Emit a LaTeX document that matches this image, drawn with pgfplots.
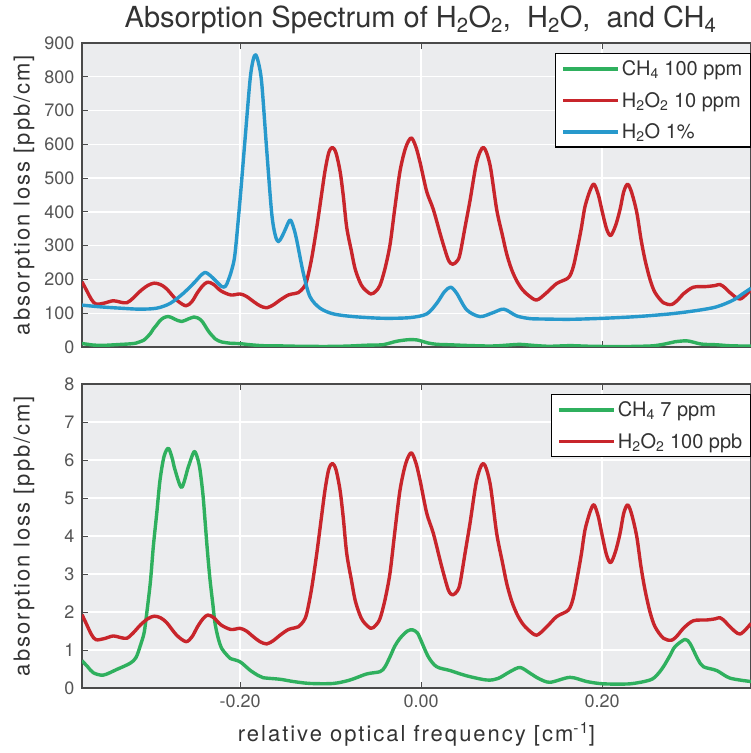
\documentclass[border=0pt]{standalone}
\usepackage{pgfplots}
\pgfplotsset{compat=1.18}
\usepackage{pgfplotstable}
\usepackage{fontspec}
\setmainfont{TeX Gyre Heros}
\newfontfamily\labfont[LetterSpace=9]{TeX Gyre Heros}

\definecolor{bgcol}{HTML}{EBECEE}
\definecolor{framecol}{HTML}{4A4A4A}
\definecolor{tickcol}{HTML}{555555}
\definecolor{labcol}{HTML}{333333}
\definecolor{ch4col}{HTML}{2FB05E}
\definecolor{hhocol}{HTML}{C8252B}
\definecolor{watcol}{HTML}{2799CC}

% H2O2 at 100 ppb, absorption loss in ppb/cm
\pgfplotstableread{
x y
-0.3746 1.93
-0.3700 1.70
-0.3640 1.40
-0.3590 1.27
-0.3500 1.30
-0.3400 1.37
-0.3325 1.33
-0.3250 1.31
-0.3180 1.45
-0.3100 1.66
-0.3020 1.82
-0.2950 1.89
-0.2880 1.85
-0.2810 1.72
-0.2700 1.39
-0.2597 1.22
-0.2530 1.35
-0.2470 1.61
-0.2410 1.82
-0.2357 1.92
-0.2290 1.85
-0.2210 1.66
-0.2100 1.54
-0.2000 1.57
-0.1930 1.50
-0.1853 1.35
-0.1780 1.22
-0.1705 1.16
-0.1630 1.25
-0.1558 1.39
-0.1466 1.54
-0.1400 1.58
-0.1356 1.61
-0.1300 1.75
-0.1263 1.96
-0.1210 2.60
-0.1152 3.54
-0.1100 4.50
-0.1061 5.21
-0.1020 5.75
-0.0980 5.91
-0.0940 5.75
-0.0895 5.21
-0.0860 4.50
-0.0821 3.54
-0.0770 2.85
-0.0729 2.32
-0.0680 1.95
-0.0638 1.75
-0.0556 1.57
-0.0500 1.65
-0.0453 1.83
-0.0400 2.30
-0.0343 3.02
-0.0290 4.10
-0.0232 5.21
-0.0170 5.90
-0.0110 6.19
-0.0060 5.95
-0.0011 5.47
0.0063 4.60
0.0136 4.07
0.0229 3.19
0.0302 2.58
0.0350 2.45
0.0400 2.55
0.0431 2.75
0.0490 3.60
0.0541 4.33
0.0615 5.47
0.0689 5.91
0.0762 5.39
0.0836 4.07
0.0900 3.30
0.0947 2.75
0.1000 2.30
0.1057 1.96
0.1120 1.70
0.1186 1.53
0.1278 1.39
0.1389 1.61
0.1499 1.88
0.1628 2.05
0.1680 2.35
0.1721 2.84
0.1770 3.50
0.1812 4.16
0.1870 4.65
0.1912 4.82
0.1960 4.50
0.1997 4.07
0.2050 3.50
0.2096 3.30
0.2150 3.60
0.2199 4.07
0.2240 4.60
0.2284 4.82
0.2330 4.55
0.2384 3.98
0.2430 3.20
0.2475 2.58
0.2530 2.00
0.2586 1.61
0.2678 1.31
0.2770 1.26
0.2840 1.40
0.2898 1.57
0.3009 1.77
0.3157 1.79
0.3250 1.82
0.3304 1.85
0.3360 1.75
0.3414 1.61
0.3525 1.42
0.3646 1.70
}\hhotab

% CH4 at 7 ppm, absorption loss in ppb/cm
\pgfplotstableread{
x y
-0.3746 0.72
-0.3680 0.55
-0.3620 0.40
-0.3510 0.34
-0.3360 0.49
-0.3215 0.65
-0.3150 0.80
-0.3105 1.09
-0.3060 1.45
-0.3031 1.96
-0.2990 2.80
-0.2958 3.72
-0.2920 4.60
-0.2884 5.47
-0.2840 6.09
-0.2792 6.31
-0.2750 6.05
-0.2718 5.74
-0.2645 5.28
-0.2571 5.82
-0.2508 6.22
-0.2470 6.05
-0.2442 5.74
-0.2410 5.10
-0.2387 4.42
-0.2360 3.60
-0.2331 2.84
-0.2300 2.20
-0.2276 1.70
-0.2240 1.30
-0.2202 1.04
-0.2150 0.88
-0.2110 0.78
-0.2000 0.69
-0.1890 0.47
-0.1800 0.33
-0.1743 0.27
-0.1558 0.23
-0.1411 0.17
-0.1227 0.12
-0.0969 0.12
-0.0785 0.21
-0.0600 0.37
-0.0453 0.43
-0.0400 0.55
-0.0343 0.82
-0.0290 1.10
-0.0232 1.31
-0.0150 1.50
-0.0092 1.53
-0.0040 1.45
-0.0011 1.31
0.0081 0.82
0.0173 0.56
0.0320 0.46
0.0505 0.32
0.0726 0.21
0.0850 0.25
0.0983 0.43
0.1094 0.54
0.1204 0.39
0.1300 0.25
0.1425 0.15
0.1646 0.28
0.1831 0.17
0.2015 0.11
0.2309 0.11
0.2530 0.21
0.2610 0.35
0.2678 0.56
0.2750 0.85
0.2807 1.09
0.2917 1.28
0.2970 1.18
0.3009 1.00
0.3060 0.75
0.3120 0.56
0.3267 0.46
0.3414 0.26
0.3646 0.17
}\chtab

% H2O at 1 %, absorption loss in ppb/cm
\pgfplotstableread{
x y
-0.3746 124
-0.3547 119
-0.3326 115
-0.3105 112
-0.2920 115
-0.2773 129
-0.2626 159
-0.2497 193
-0.2440 210
-0.2387 221
-0.2340 214
-0.2295 203
-0.2202 179
-0.2160 180
-0.2129 198
-0.2090 230
-0.2055 277
-0.2000 435
-0.1945 613
-0.1889 791
-0.1855 850
-0.1827 865
-0.1795 840
-0.1760 781
-0.1705 583
-0.1650 396
-0.1610 330
-0.1576 312
-0.1540 325
-0.1503 346
-0.1448 376
-0.1410 355
-0.1374 317
-0.1300 218
-0.1227 149
-0.1116 115
-0.0969 98
-0.0748 90
-0.0417 85
-0.0122 87
0.0063 98
0.0173 129
0.0260 164
0.0328 177
0.0394 159
0.0505 110
0.0652 90
0.0799 102
0.0917 112
0.1057 92
0.1204 84
0.1315 83
0.1646 82
0.2015 85
0.2384 90
0.2751 98
0.3046 108
0.3267 119
0.3451 139
0.3562 159
0.3646 174
}\wattab

\pgfplotsset{
  specstyle/.style={
    scale only axis, width=669pt, height=304pt,
    xmin=-0.3746, xmax=0.3646,
    axis background/.style={fill=bgcol},
    grid=major, major grid style={white, line width=1.3pt},
    axis line style={draw=framecol, line width=1.8pt},
    tick style={draw=framecol, line width=1pt},
    major tick length=6pt,
    tick align=inside,
    ytick pos=left,
    xtick={-0.2,0,0.2},
    /pgf/number format/assume math mode=true,
    tick label style={font=\fontsize{18}{21}\selectfont, text=tickcol},
    xticklabel style={yshift=-3pt},
    yticklabel style={xshift=-4pt},
    ylabel={absorption loss [ppb/cm]},
    every axis y label/.style={at={(axis description cs:0,0.5)}, xshift=-58pt,
      rotate=90, anchor=center, font=\labfont\fontsize{22}{25}\selectfont, text=labcol},
    legend style={at={(1,1)}, anchor=north east, yshift=-10pt,
      draw=black, line width=1.4pt, fill=white,
      font=\fontsize{20}{23}\selectfont, text=labcol,
      inner xsep=6pt, inner ysep=5pt, row sep=11pt,
      cells={anchor=west}},
    legend image code/.code={%
      \path (0pt,0pt) -- (55pt,0pt);
      \draw[#1, line width=3pt] (0pt,0pt) -- (43pt,0pt);},
    every axis plot/.append style={line width=3.4pt, line join=round, smooth},
  }
}

\begin{document}
\begin{tikzpicture}
\begin{axis}[specstyle, at={(82pt,-43pt)}, anchor=north west,
  ymin=0, ymax=900, ytick={0,100,...,900},
  xticklabels={},
  title={Absorption Spectrum of H\textsubscript{2}O\textsubscript{2},\ \ H\textsubscript{2}O,\ \ and CH\textsubscript{4}},
  title style={at={(axis description cs:0.5,1)}, anchor=base, yshift=10pt, xshift=4pt,
    font=\fontsize{29}{32}\selectfont, text=labcol},
]
\addplot[ch4col] table[x=x, y expr=\thisrow{y}*100/7] {\chtab};
\addlegendentry{CH\textsubscript{4} 100 ppm}
\addplot[hhocol] table[x=x, y expr=\thisrow{y}*100] {\hhotab};
\addlegendentry{H\textsubscript{2}O\textsubscript{2} 10 ppm}
\addplot[watcol] table[x=x, y=y] {\wattab};
\addlegendentry{H\textsubscript{2}O 1\%}
\end{axis}

\begin{axis}[specstyle, at={(82pt,-384pt)}, anchor=north west,
  ymin=0, ymax=8, ytick={0,1,...,8},
  xticklabels={-0.20,0.00,0.20},
  xlabel={relative optical frequency [cm\textsuperscript{-1}]},
  every axis x label/.style={at={(axis description cs:0.5,0)}, anchor=base,
    yshift=-53pt, font=\labfont\fontsize{22}{25}\selectfont, text=labcol},
]
\addplot[ch4col] table[x=x, y=y] {\chtab};
\addlegendentry{CH\textsubscript{4} 7 ppm}
\addplot[hhocol] table[x=x, y=y] {\hhotab};
\addlegendentry{H\textsubscript{2}O\textsubscript{2} 100 ppb}
\end{axis}

\pgfresetboundingbox
\path[use as bounding box] (0pt,0pt) rectangle (751pt,-753pt);
\end{tikzpicture}
\end{document}
